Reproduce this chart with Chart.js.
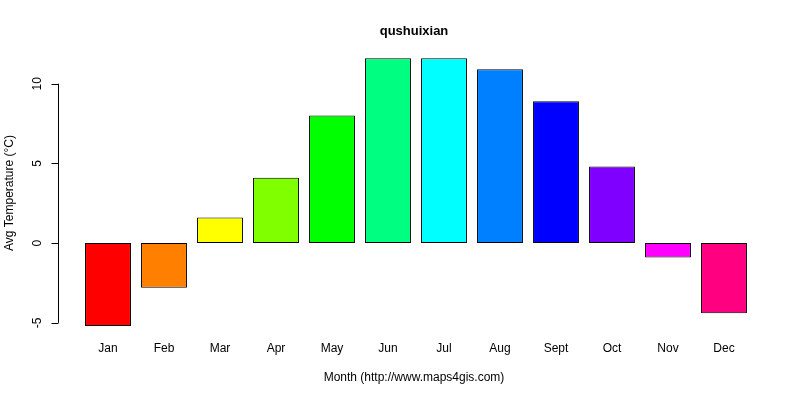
<!DOCTYPE html>
<html><head><script src="https://cdn.jsdelivr.net/npm/chart.js@4/dist/chart.umd.min.js"></script>
<style>body{margin:0;background:#fff}#w{width:800px;height:400px}</style></head>
<body><div id="w"><canvas id="c"></canvas></div>
<script>
const months=["Jan","Feb","Mar","Apr","May","Jun","Jul","Aug","Sept","Oct","Nov","Dec"];
const temps=[-5.2,-2.8,1.6,4.1,8.0,11.6,11.6,10.9,8.9,4.8,-0.9,-4.4];
const colors=["#FF0000","#FF8000","#FFFF00","#80FF00","#00FF00","#00FF80","#00FFFF","#0080FF","#0000FF","#8000FF","#FF00FF","#FF0080"];
const yTicks=[-5,0,5,10];
const F="'Liberation Sans', Arial, sans-serif";
const rAxes={id:'rAxes',afterDraw(ch){
  const c=ch.ctx,y=ch.scales.y,x=ch.scales.x;
  c.save();c.strokeStyle='#000';c.fillStyle='#000';c.lineWidth=1;
  const ax=58.5;
  c.beginPath();c.moveTo(ax,y.getPixelForValue(yTicks[0]));c.lineTo(ax,y.getPixelForValue(yTicks[yTicks.length-1]));
  yTicks.forEach(t=>{const p=Math.round(y.getPixelForValue(t))+0.5;c.moveTo(ax,p);c.lineTo(ax-7,p);});
  c.stroke();
  c.font='12px '+F;c.textAlign='center';c.textBaseline='middle';
  yTicks.forEach(t=>{c.save();c.translate(38,y.getPixelForValue(t));c.rotate(-Math.PI/2);c.fillText(String(t),0,0);c.restore();});
  months.forEach((m,i)=>c.fillText(m,x.getPixelForValue(i),349));
  c.fillText('Month (http://www.maps4gis.com)',414,378);
  c.save();c.translate(10,193);c.rotate(-Math.PI/2);c.fillText('Avg Temperature (°C)',0,0);c.restore();
  c.font='bold 13px '+F;c.fillText('qushuixian',414,31);
  c.restore();
}};
new Chart(document.getElementById('c'),{type:'bar',
 data:{labels:months,datasets:[{data:temps,backgroundColor:colors,borderColor:'#000',borderWidth:1,borderSkipped:false,barPercentage:0.82,categoryPercentage:1}]},
 options:{responsive:true,maintainAspectRatio:false,animation:false,devicePixelRatio:1,
  layout:{padding:{left:80,right:48,top:48,bottom:63}},
  plugins:{legend:{display:false},tooltip:{enabled:false}},
  scales:{x:{display:false,offset:true},y:{display:false,min:-5.89,max:12.24}}},
 plugins:[rAxes]});
</script></body></html>
